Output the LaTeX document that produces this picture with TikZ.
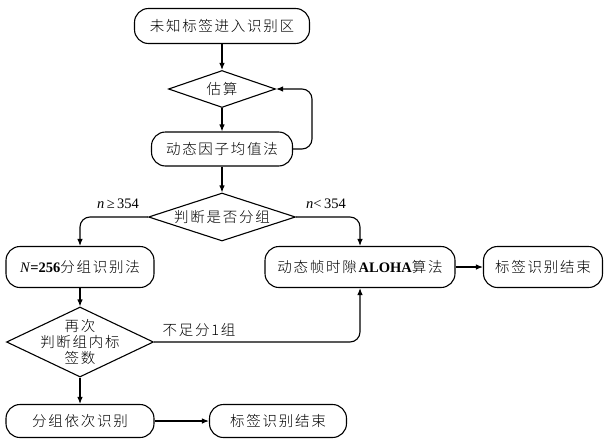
\documentclass[tikz,border=0pt]{standalone}
\usepackage{fontspec}
\setmainfont{Liberation Serif}
\newfontfamily\cjk[LetterSpace=12]{Noto Sans CJK SC Light}
\usetikzlibrary{shapes.geometric,arrows.meta}
\begin{document}
\begin{tikzpicture}[x=1pt,y=-1pt,
  line width=1.1pt,
  every node/.style={font=\fontsize{14.5}{17}\selectfont},
  pbox/.style={draw, rounded corners=14pt, inner sep=0pt, align=center},
  dbox/.style={draw, diamond, inner sep=0pt},
  dtext/.style={inner sep=0pt, align=center},
  arr/.style={-{Latex[length=7pt,width=5.5pt]}},
  lbl/.style={inner sep=1pt, font=\fontsize{14.5}{16}\selectfont}]
\useasboundingbox (0,0) rectangle (604,439);
\node[pbox, minimum width=175pt, minimum height=35pt] (start) at (222,26) {\cjk 未知标签进入识别区};
\node[dbox, minimum width=107pt, minimum height=37pt] (est) at (222,89) {};
\node[dtext] (estt) at (est) {\cjk 估算};
\node[pbox, minimum width=141pt, minimum height=34pt] (dyn) at (222,149) {\cjk 动态因子均值法};
\node[dbox, minimum width=147pt, minimum height=48pt] (judge) at (222,217) {};
\node[dtext] (judget) at (judge) {\cjk 判断是否分组};
\node[pbox, minimum width=148pt, minimum height=41pt] (nbox) at (80,267) {\textit{N}\textbf{=256}{\cjk 分组识别法}};
\node[pbox, minimum width=190pt, minimum height=41pt] (aloha) at (360,267) {{\cjk 动态帧时隙}\textbf{ALOHA}{\cjk 算法}};
\node[pbox, minimum width=119pt, minimum height=41pt] (end1) at (543,267) {\cjk 标签识别结束};
\node[dbox, minimum width=147pt, minimum height=70pt] (d2) at (80,342) {};
\node[dtext] (d2t) at (d2) {\cjk 再次\\[-1pt]\cjk 判断组内标\\[-1pt]\cjk 签数};
\node[pbox, minimum width=148pt, minimum height=33pt] (seq) at (80,421) {\cjk 分组依次识别};
\node[pbox, minimum width=137pt, minimum height=33pt] (end2) at (278,421) {\cjk 标签识别结束};
\coordinate (loopR) at (312,149);
\coordinate (jl) at (80,217);
\coordinate (jr) at (360,217);
\coordinate (dr) at (360,342);
\draw[arr] (start) -- (est);
\draw[arr] (est) -- (dyn);
\draw[arr, rounded corners=10pt] (dyn.east) -- (loopR) |- (est.east);
\draw[arr] (dyn) -- (judge);
\draw[arr, rounded corners=10pt] (judge.west) -- (jl) -- (nbox.north);
\draw[arr, rounded corners=10pt] (judge.east) -- (jr) -- (aloha.north);
\draw[arr] (aloha) -- (end1);
\draw[arr] (nbox) -- (d2);
\draw[arr, rounded corners=10pt] (d2.east) -- (dr) -- (aloha.south);
\draw[arr] (d2) -- (seq);
\draw[arr] (seq) -- (end2);
\node[lbl] (l1) at (118,204) {\textit{n}\,≥\,354};
\node[lbl] (l2) at (326,204) {\textit{n}<\,354};
\node[lbl] (l3) at (199,330) {\cjk 不足分1组};
\end{tikzpicture}
\end{document}
